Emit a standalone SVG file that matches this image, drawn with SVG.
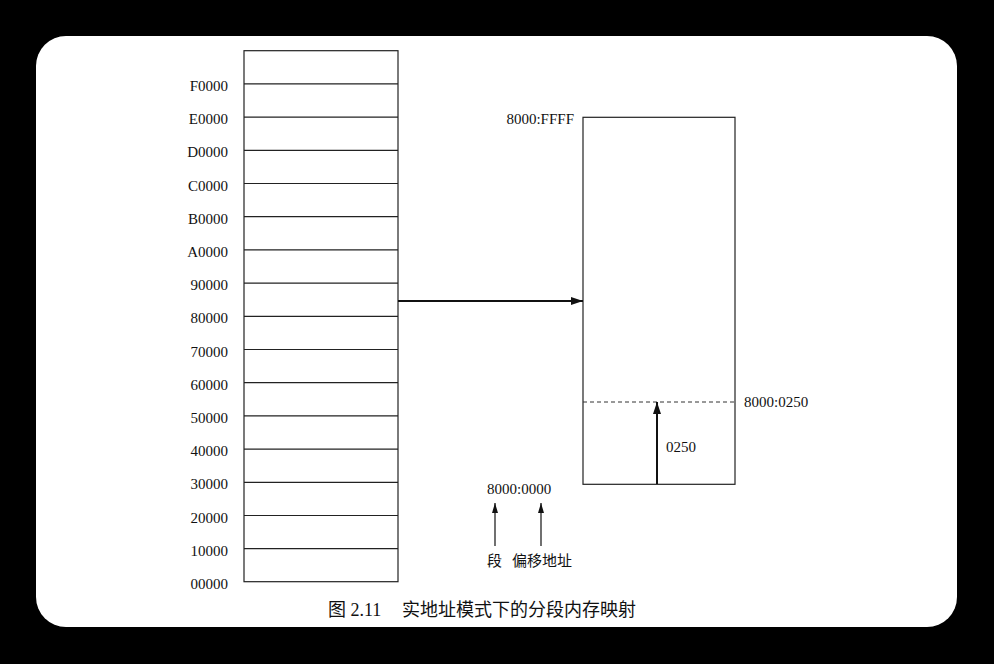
<svg xmlns="http://www.w3.org/2000/svg" width="994" height="664" viewBox="0 0 994 664">
<defs>
<style>
.ln{stroke:#222;stroke-width:1.2;fill:none}
.lb{font-family:"Liberation Serif","Times New Roman",serif;font-size:15px;fill:#111}
.cj{font-family:"Liberation Serif","Noto Sans CJK SC",serif;font-size:18px;fill:#111}
.cs{font-family:"Noto Sans CJK SC",sans-serif;font-size:15px;fill:#111}
</style>
<marker id="ah" viewBox="0 0 12 8" refX="12" refY="4" markerWidth="12" markerHeight="8" markerUnits="userSpaceOnUse" orient="auto">
<path d="M0,0 L12,4 L0,8 Z" fill="#111"/>
</marker>
<marker id="ahs" viewBox="0 0 10 6" refX="10" refY="3" markerWidth="10" markerHeight="6" markerUnits="userSpaceOnUse" orient="auto">
<path d="M0,0 L10,3 L0,6 Z" fill="#111"/>
</marker>
</defs>
<rect width="994" height="664" fill="#000"/>
<rect x="36" y="36" width="921" height="591" rx="30" fill="#fff"/>

<g id="memory">
<rect class="ln" x="244" y="50.7" width="154" height="531"/>
<g class="ln">
<line x1="244" y1="83.9" x2="398" y2="83.9"/>
<line x1="244" y1="117.1" x2="398" y2="117.1"/>
<line x1="244" y1="150.3" x2="398" y2="150.3"/>
<line x1="244" y1="183.5" x2="398" y2="183.5"/>
<line x1="244" y1="216.7" x2="398" y2="216.7"/>
<line x1="244" y1="249.9" x2="398" y2="249.9"/>
<line x1="244" y1="283.1" x2="398" y2="283.1"/>
<line x1="244" y1="316.3" x2="398" y2="316.3"/>
<line x1="244" y1="349.5" x2="398" y2="349.5"/>
<line x1="244" y1="382.7" x2="398" y2="382.7"/>
<line x1="244" y1="415.9" x2="398" y2="415.9"/>
<line x1="244" y1="449.1" x2="398" y2="449.1"/>
<line x1="244" y1="482.3" x2="398" y2="482.3"/>
<line x1="244" y1="515.5" x2="398" y2="515.5"/>
<line x1="244" y1="548.7" x2="398" y2="548.7"/>
</g>
<g class="lb" text-anchor="end">
<text x="228" y="90.9">F0000</text>
<text x="228" y="124.1">E0000</text>
<text x="228" y="157.3">D0000</text>
<text x="228" y="190.5">C0000</text>
<text x="228" y="223.7">B0000</text>
<text x="228" y="256.9">A0000</text>
<text x="228" y="290.1">90000</text>
<text x="228" y="323.3">80000</text>
<text x="228" y="356.5">70000</text>
<text x="228" y="389.7">60000</text>
<text x="228" y="422.9">50000</text>
<text x="228" y="456.1">40000</text>
<text x="228" y="489.3">30000</text>
<text x="228" y="522.5">20000</text>
<text x="228" y="555.7">10000</text>
<text x="228" y="588.7">00000</text>
</g>
</g>

<g id="segment">
<rect class="ln" x="583" y="117.3" width="152" height="367"/>
<line x1="583" y1="402" x2="735" y2="402" stroke="#333" stroke-width="1" stroke-dasharray="4 3"/>
<text class="lb" x="574" y="124" text-anchor="end">8000:FFFF</text>
<text class="lb" x="744" y="407">8000:0250</text>
<text class="lb" x="666" y="452">0250</text>
</g>

<g id="address">
<text class="lb" x="487" y="494">8000:0000</text>
<text class="cs" x="487" y="566">段</text>
<text class="cs" x="512" y="566">偏移地址</text>
</g>

<g id="connectors">
<line x1="398" y1="301" x2="583" y2="301" stroke="#111" stroke-width="2" marker-end="url(#ah)"/>
<line x1="657" y1="484" x2="657" y2="402" stroke="#111" stroke-width="2" marker-end="url(#ah)"/>
<line x1="495" y1="546" x2="495" y2="503" stroke="#111" stroke-width="1.2" marker-end="url(#ahs)"/>
<line x1="541" y1="546" x2="541" y2="503" stroke="#111" stroke-width="1.2" marker-end="url(#ahs)"/>
</g>

<text class="cj" x="328" y="616">图 2.11<tspan x="402">实地址模式下的分段内存映射</tspan></text>
</svg>
